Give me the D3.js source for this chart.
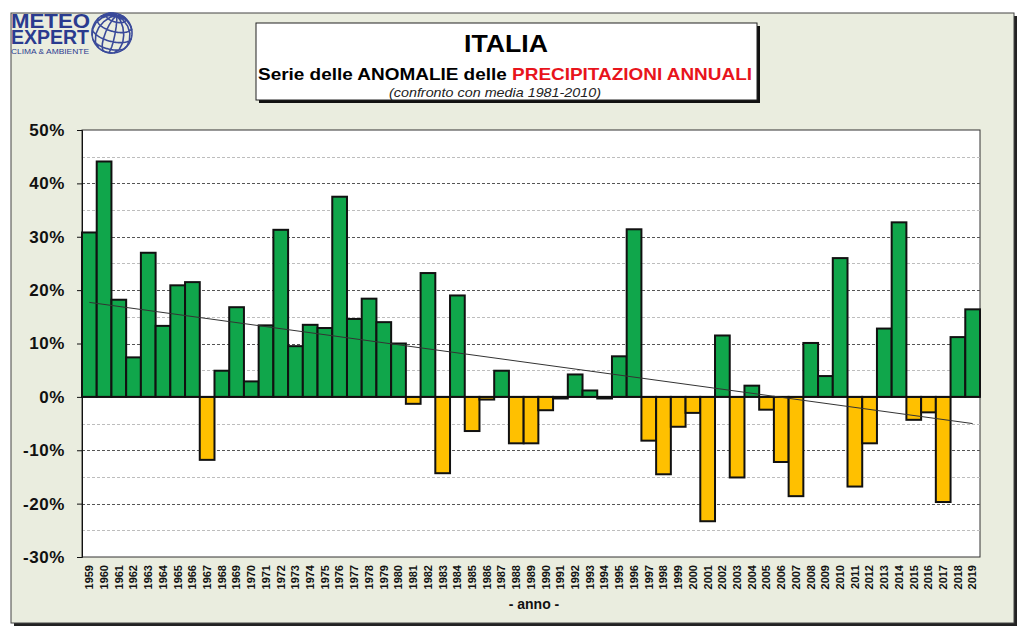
<!DOCTYPE html>
<html><head><meta charset="utf-8">
<script src="https://cdn.jsdelivr.net/npm/d3@7"></script>
<style>body{margin:0;background:#fff;}svg{display:block;}</style>
</head><body>
<script>
const years = d3.range(1959, 2020).map(String);
const anomalies = [30.8,44.1,18.2,7.4,27.0,13.3,20.9,21.5,-11.8,4.9,
  16.8,2.9,13.4,31.3,9.5,13.5,12.9,37.5,14.6,18.4,
  14.0,10.0,-1.3,23.2,-14.3,19.0,-6.4,-0.5,4.9,-8.7,
  -8.7,-2.5,-0.3,4.2,1.2,-0.3,7.6,31.4,-8.2,-14.5,
  -5.6,-3.0,-23.3,11.5,-15.1,2.1,-2.4,-12.2,-18.6,10.1,
  3.9,26.0,-16.8,-8.7,12.8,32.7,-4.3,-2.9,-19.7,11.2,16.4];
const trendEnds = [17.7, -5.0];
const majorTicks = [50,40,30,20,10,0,-10,-20,-30];
const minorTicks = [45,35,25,15,5,-5,-15,-25];
const titleText = "ITALIA";
const subtitleParts = [["Serie delle ", "#000"],["ANOMALIE", "#000"],[" delle ", "#000"],["PRECIPITAZIONI ANNUALI", "#e8141c"]];
const noteText = "(confronto con media 1981-2010)";
const xTitle = "- anno -";

const W = 1027, H = 636;
const svg = d3.select("body").append("svg").attr("width", W).attr("height", H);
const font = "Arial, 'Liberation Sans', sans-serif";

// outer frame with shadow
svg.append("rect").attr("x", 14).attr("y", 16).attr("width", 1003).attr("height", 610).attr("fill", "#222");
svg.append("rect").attr("x", 11).attr("y", 13).attr("width", 1003).attr("height", 610)
  .attr("fill", "#eaeddf").attr("stroke", "#444").attr("stroke-width", 1);

// plot area
const L = 82, R = 980, T = 130, B = 557;
const x = d3.scaleBand().domain(years).range([L, R]).padding(0);
const y = d3.scaleLinear().domain([-30, 50]).range([B, T]);

svg.append("rect").attr("x", L).attr("y", T).attr("width", R - L).attr("height", B - T)
  .attr("fill", "#fff").attr("stroke", "#333").attr("stroke-width", 1);

// gridlines
svg.append("g").selectAll("line").data(minorTicks).join("line")
  .attr("x1", L).attr("x2", R).attr("y1", d => Math.round(y(d)) + 0.5).attr("y2", d => Math.round(y(d)) + 0.5)
  .attr("stroke", "#bdbdbd").attr("stroke-width", 1).attr("stroke-dasharray", "3,2");
svg.append("g").selectAll("line").data(majorTicks.filter(d => d !== 50 && d !== -30 && d !== 0)).join("line")
  .attr("x1", L).attr("x2", R).attr("y1", d => Math.round(y(d)) + 0.5).attr("y2", d => Math.round(y(d)) + 0.5)
  .attr("stroke", "#555").attr("stroke-width", 1).attr("stroke-dasharray", "3,2");

// bars
svg.append("g").selectAll("rect").data(anomalies).join("rect")
  .attr("x", (d, i) => x(years[i]))
  .attr("width", x.bandwidth())
  .attr("y", d => y(Math.max(0, d)))
  .attr("height", d => Math.abs(y(d) - y(0)))
  .attr("fill", d => d >= 0 ? "#10a64b" : "#ffc000")
  .attr("stroke", "#111").attr("stroke-width", 2);

// zero line
svg.append("line").attr("x1", L).attr("x2", R).attr("y1", y(0)).attr("y2", y(0))
  .attr("stroke", "#111").attr("stroke-width", 1.5);

// trend line
svg.append("line")
  .attr("x1", x(years[0]) + x.bandwidth() / 2).attr("y1", y(trendEnds[0]))
  .attr("x2", x(years[years.length - 1]) + x.bandwidth() / 2).attr("y2", y(trendEnds[1]))
  .attr("stroke", "#333").attr("stroke-width", 1);

// y axis
const yAxis = d3.axisLeft(y).tickValues(majorTicks).tickSize(5).tickPadding(12).tickFormat(d => d + "%");
const gy = svg.append("g").attr("transform", `translate(${L},0)`).call(yAxis);
gy.select(".domain").attr("stroke", "#111");
gy.selectAll(".tick line").attr("stroke", "#111");
gy.selectAll("text").attr("font-family", font).attr("font-weight", "bold").attr("font-size", 17)
  .attr("letter-spacing", 0.6).attr("fill", "#111");

// x axis labels
const xAxis = d3.axisBottom(x).tickSize(0).tickPadding(0);
const gx = svg.append("g").attr("transform", `translate(0,${B})`).call(xAxis);
gx.select(".domain").remove();
gx.selectAll("text")
  .attr("font-family", font).attr("font-weight", "bold").attr("font-size", 11).attr("fill", "#111")
  .attr("transform", "rotate(-90)").attr("text-anchor", "end")
  .attr("x", -8).attr("y", 0).attr("dy", "0.35em");

svg.append("text").attr("x", 534).attr("y", 609).attr("text-anchor", "middle")
  .attr("font-family", font).attr("font-weight", "bold").attr("font-size", 14).attr("fill", "#111").text(xTitle);

// title box
svg.append("rect").attr("x", 259).attr("y", 26).attr("width", 501).attr("height", 77).attr("fill", "#111");
svg.append("rect").attr("x", 256).attr("y", 23).attr("width", 501).attr("height", 77)
  .attr("fill", "#fff").attr("stroke", "#222").attr("stroke-width", 1);
svg.append("text").attr("x", 506).attr("y", 52).attr("text-anchor", "middle")
  .attr("font-family", font).attr("font-weight", "bold").attr("font-size", 23).attr("fill", "#000")
  .attr("textLength", 84).attr("lengthAdjust", "spacingAndGlyphs").text(titleText);
const st = svg.append("text").attr("x", 505).attr("y", 80).attr("text-anchor", "middle")
  .attr("font-family", font).attr("font-weight", "bold").attr("font-size", 16.5)
  .attr("textLength", 494).attr("lengthAdjust", "spacingAndGlyphs");
subtitleParts.forEach(p => st.append("tspan").attr("fill", p[1]).text(p[0]));
svg.append("text").attr("x", 495).attr("y", 97).attr("text-anchor", "middle")
  .attr("font-family", font).attr("font-style", "italic").attr("font-size", 13).attr("fill", "#222")
  .attr("textLength", 212).attr("lengthAdjust", "spacingAndGlyphs").text(noteText);

// logo
const logo = svg.append("g");
const lt = logo.append("text").attr("font-family", font).attr("font-weight", "bold")
  .attr("font-size", 19.5).attr("fill", "#2a3b8f");
lt.append("tspan").attr("x", 11).attr("y", 27.5).attr("textLength", 79).attr("lengthAdjust", "spacingAndGlyphs").text("METEO");
lt.append("tspan").attr("x", 11).attr("y", 43.5).attr("textLength", 78).attr("lengthAdjust", "spacingAndGlyphs").text("EXPERT");
logo.append("text").attr("x", 11).attr("y", 53.5).attr("font-family", font)
  .attr("font-size", 6.5).attr("fill", "#2a3b8f").attr("textLength", 78).attr("lengthAdjust", "spacingAndGlyphs").text("CLIMA & AMBIENTE");
const proj = d3.geoOrthographic().scale(20).translate([112, 33]).rotate([-20, -25, -15]);
const path = d3.geoPath(proj);
logo.append("path").datum(d3.geoGraticule().step([30, 30])()).attr("d", path)
  .attr("fill", "none").attr("stroke", "#3a4a9a").attr("stroke-width", 1.6);
logo.append("path").datum({type: "Sphere"}).attr("d", path)
  .attr("fill", "none").attr("stroke", "#3a4a9a").attr("stroke-width", 1.6);
</script>
</body></html>
